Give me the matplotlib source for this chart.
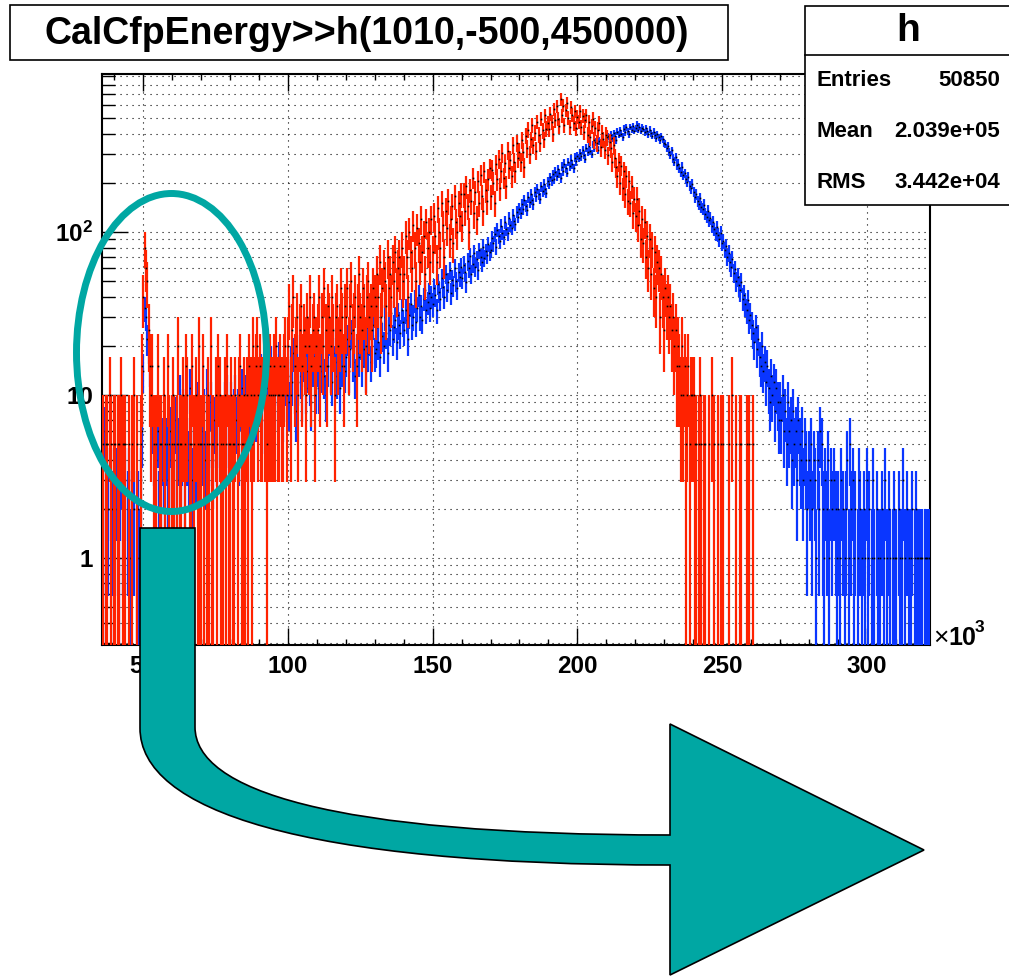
import numpy as np
import matplotlib
matplotlib.use("Agg")
import matplotlib.pyplot as plt
from matplotlib.collections import LineCollection
from matplotlib.patches import Rectangle, Ellipse, PathPatch
from matplotlib.path import Path
from matplotlib.ticker import FixedLocator, NullFormatter

plt.rcParams['font.family'] = ['Liberation Sans', 'DejaVu Sans']
plt.rcParams['mathtext.fontset'] = 'custom'
plt.rcParams['mathtext.rm'] = 'Liberation Sans:bold'
plt.rcParams['mathtext.bf'] = 'Liberation Sans:bold'
plt.rcParams['mathtext.default'] = 'rm'

# ---------------- data ----------------
# histogram h(1010,-500,450000): bin width in units of 10^3
BIN_W = 450.5 / 1010
X_LO = -0.5
FIRST_BIN = 81          # first bin shown (~35.6 x10^3)
RED_SCALE = 5.0         # red histogram is scaled by 5 per entry
BLUE_SCALE = 1.0

# blue counts per bin, grouped by ~10x10^3 ranges
blue_35_40 = [3, 2, 6, 1, 3, 2, 0, 3, 2, 1]
blue_40_50 = [2, 3, 3, 1, 3, 4, 2, 3, 3, 0, 2, 3, 1, 2, 3, 2, 0, 1, 2, 1, 3, 6]
blue_50_60 = [14, 34, 30, 22, 20, 15, 10, 7, 5, 3, 4, 6, 2, 4, 3, 5, 4, 2, 5, 3, 4, 6, 3]
blue_60_70 = [5, 4, 7, 3, 5, 10, 4, 5, 8, 3, 6, 5, 4, 11, 5, 3, 6, 5, 4, 9, 5, 6]
blue_70_80 = [6, 5, 8, 4, 11, 7, 5, 9, 6, 4, 7, 6, 5, 12, 6, 7, 4, 6, 9, 5, 10, 6]
blue_80_90 = [7, 9, 6, 8, 10, 7, 8, 5, 9, 11, 7, 8, 10, 6, 9, 8, 12, 7, 9, 10, 8, 11, 9]
blue_90_100 = [10, 14, 7, 12, 15, 9, 11, 6, 13, 16, 10, 8, 12, 14, 9, 17, 11, 13, 8, 15, 12, 10]
blue_100_110 = [13, 9, 16, 12, 18, 11, 8, 14, 12, 19, 13, 10, 16, 15, 11, 14, 20, 12, 9, 15, 17, 13, 11]
blue_110_120 = [15, 11, 19, 14, 20, 13, 10, 17, 15, 22, 14, 12, 18, 16, 21, 13, 17, 11, 20, 15, 18, 14]
blue_120_130 = [17, 22, 14, 19, 24, 16, 20, 13, 18, 25, 17, 21, 15, 23, 19, 14, 26, 18, 22, 16, 20, 27, 18]
blue_130_140 = [19, 26, 21, 17, 28, 23, 20, 30, 24, 18, 27, 25, 32, 22, 26, 29, 21, 31, 27, 24, 33, 28]
blue_140_150 = [25, 33, 29, 22, 31, 36, 27, 30, 38, 28, 34, 41, 30, 35, 29, 39, 44, 33, 37, 42, 34, 40]
blue_150_160 = [36, 45, 41, 33, 48, 43, 39, 52, 46, 40, 55, 44, 49, 58, 42, 51, 47, 60, 50, 45, 57, 53, 61]
blue_160_170 = [52, 63, 57, 49, 66, 60, 71, 55, 64, 74, 61, 68, 58, 77, 70, 65, 81, 69, 76, 72, 84, 75]
blue_170_180 = [78, 92, 85, 97, 81, 103, 94, 88, 109, 99, 93, 115, 104, 98, 121, 110, 106, 127, 117, 112, 133, 124, 138]
blue_180_190 = [131, 148, 139, 157, 144, 136, 163, 152, 170, 158, 149, 176, 165, 184, 171, 160, 190, 178, 197, 183, 174, 204]
blue_190_200 = [198, 216, 207, 226, 211, 234, 220, 243, 229, 214, 251, 237, 262, 245, 231, 269, 254, 278, 260, 247, 286, 271, 293]
blue_200_210 = [284, 303, 291, 317, 298, 282, 326, 309, 337, 315, 301, 345, 327, 356, 333, 318, 362, 341, 371, 350, 336, 378]
blue_210_220 = [361, 385, 370, 396, 377, 404, 389, 366, 412, 395, 421, 400, 383, 430, 409, 438, 416, 398, 441, 425, 447, 419]
blue_220_230 = [432, 455, 424, 443, 418, 437, 429, 408, 434, 415, 398, 423, 404, 389, 411, 392, 376, 398, 381, 365, 387, 370, 352]
blue_230_240 = [347, 329, 338, 309, 297, 316, 282, 270, 289, 256, 262, 247, 234, 251, 222, 229, 210, 203, 217, 192, 185, 198]
blue_240_250 = [176, 163, 170, 154, 149, 161, 142, 138, 147, 129, 124, 135, 118, 121, 109, 115, 104, 98, 107, 96, 90, 99, 86]
blue_250_260 = [88, 78, 82, 70, 74, 65, 61, 68, 56, 59, 50, 53, 47, 44, 49, 39, 41, 36, 33, 38, 29, 31]
blue_260_270 = [27, 24, 21, 26, 19, 22, 17, 15, 20, 14, 16, 12, 15, 11, 9, 13, 10, 12, 8, 11, 9, 7]
blue_270_280 = [9, 7, 10, 6, 8, 5, 9, 6, 7, 4, 8, 5, 6, 3, 7, 5, 4, 6, 3, 5, 4, 2, 4]
blue_280_290 = [3, 5, 2, 4, 3, 1, 4, 2, 6, 5, 2, 1, 3, 2, 4, 1, 3, 2, 0, 3, 2, 1]
blue_290_300 = [2, 1, 3, 0, 2, 1, 2, 4, 1, 5, 2, 3, 1, 2, 0, 1, 3, 2, 1, 0, 2, 1, 3]
blue_300_310 = [1, 2, 0, 1, 3, 1, 0, 2, 1, 1, 0, 2, 1, 3, 0, 1, 2, 1, 0, 1, 2, 1]
blue_310_320 = [1, 0, 2, 1, 1, 3, 0, 1, 2, 0, 1, 1, 2, 0, 1, 2, 1, 1, 1, 1, 1, 0, 1]
blue_320_322 = [1, 1, 1, 1]

# red counts per bin (entries before the x5 scaling)
red_35_40 = [0, 1, 0, 1, 1, 0, 2, 1, 0, 1]
red_40_50 = [1, 0, 1, 1, 0, 2, 1, 1, 1, 0, 0, 1, 0, 1, 0, 2, 0, 1, 0, 0, 1, 3]
red_50_60 = [8, 16, 12, 10, 5, 3, 2, 3, 1, 0, 1, 3, 0, 1, 1, 0, 2, 1, 0, 3, 1, 0, 1]
red_60_70 = [2, 1, 0, 1, 4, 1, 1, 0, 2, 1, 3, 2, 0, 1, 1, 3, 1, 0, 2, 1, 4, 1]
red_70_80 = [1, 3, 1, 0, 1, 2, 1, 4, 1, 1, 0, 2, 1, 3, 2, 1, 0, 1, 2, 1, 3, 1]
red_80_90 = [1, 2, 1, 1, 2, 0, 1, 2, 3, 1, 1, 2, 1, 2, 1, 3, 2, 1, 4, 2, 3, 4, 2]
red_90_100 = [3, 2, 2, 4, 2, 3, 1, 2, 3, 2, 2, 3, 2, 4, 2, 2, 3, 2, 2, 3, 4, 2]
red_100_110 = [4, 7, 2, 5, 8, 3, 4, 6, 2, 5, 7, 3, 5, 4, 2, 6, 4, 8, 3, 5, 6, 2, 4]
red_110_120 = [5, 8, 3, 6, 4, 9, 5, 3, 7, 6, 4, 8, 5, 2, 6, 7, 4, 5, 9, 6, 3, 7]
red_120_130 = [6, 9, 4, 7, 10, 5, 6, 8, 3, 7, 11, 6, 5, 9, 7, 4, 8, 10, 6, 7, 5, 9, 8]
red_130_140 = [7, 11, 8, 13, 6, 9, 12, 10, 7, 14, 9, 11, 8, 13, 10, 15, 9, 12, 14, 11, 16, 10]
red_140_150 = [11, 19, 14, 8, 20, 15, 12, 22, 16, 10, 21, 17, 13, 24, 15, 19, 11, 23, 16, 20, 13, 24]
red_150_160 = [15, 25, 19, 13, 28, 20, 16, 30, 22, 14, 27, 21, 31, 18, 24, 29, 17, 33, 23, 20, 30, 25, 34]
red_160_170 = [22, 34, 27, 38, 29, 20, 36, 31, 43, 26, 35, 24, 41, 30, 45, 33, 27, 47, 36, 31, 42, 49]
red_170_180 = [33, 48, 40, 30, 52, 42, 56, 37, 47, 61, 43, 53, 38, 63, 49, 55, 44, 68, 54, 47, 70, 57, 62]
red_180_190 = [54, 73, 62, 50, 78, 65, 85, 60, 74, 90, 68, 81, 63, 95, 79, 70, 99, 84, 74, 104, 86, 93]
red_190_200 = [86, 106, 94, 80, 113, 97, 118, 99, 89, 130, 104, 119, 91, 112, 124, 100, 88, 116, 105, 93, 110, 87, 102]
red_200_210 = [95, 110, 88, 103, 82, 97, 104, 79, 94, 76, 89, 99, 73, 87, 70, 85, 93, 66, 81, 74, 64, 79]
red_210_220 = [76, 59, 71, 65, 54, 68, 57, 50, 44, 54, 40, 51, 37, 47, 34, 44, 31, 41, 30, 38, 26, 32]
red_220_230 = [25, 32, 22, 27, 18, 24, 17, 23, 14, 19, 12, 18, 11, 16, 9, 15, 8, 13, 12, 6, 11, 8, 5]
red_230_240 = [9, 7, 8, 6, 7, 5, 6, 4, 5, 3, 4, 3, 2, 4, 2, 3, 1, 2, 3, 1, 2, 2]
red_240_250 = [2, 1, 1, 0, 1, 2, 1, 0, 1, 1, 0, 0, 1, 0, 2, 0, 1, 0, 0, 1, 0, 1, 0]
red_250_260 = [1, 0, 0, 0, 1, 0, 0, 2, 0, 0, 1, 0, 0, 1, 1, 0, 0, 0, 1, 0, 1, 0]
red_260_262 = [0, 1, 0, 0]

blue_counts = (blue_35_40 + blue_40_50 + blue_50_60 + blue_60_70 + blue_70_80 + blue_80_90
               + blue_90_100 + blue_100_110 + blue_110_120 + blue_120_130 + blue_130_140
               + blue_140_150 + blue_150_160 + blue_160_170 + blue_170_180 + blue_180_190
               + blue_190_200 + blue_200_210 + blue_210_220 + blue_220_230 + blue_230_240
               + blue_240_250 + blue_250_260 + blue_260_270 + blue_270_280 + blue_280_290
               + blue_290_300 + blue_300_310 + blue_310_320 + blue_320_322)
red_counts = (red_35_40 + red_40_50 + red_50_60 + red_60_70 + red_70_80 + red_80_90
              + red_90_100 + red_100_110 + red_110_120 + red_120_130 + red_130_140
              + red_140_150 + red_150_160 + red_160_170 + red_170_180 + red_180_190
              + red_190_200 + red_200_210 + red_210_220 + red_220_230 + red_230_240
              + red_240_250 + red_250_260 + red_260_262)

x_major = [50, 100, 150, 200, 250, 300]
x_labels = ['50', '100', '150', '200', '250', '300']
y_major = [1, 10, 100]
y_labels = ['1', '10', r'$10^{2}$']

title_text = "CalCfpEnergy>>h(1010,-500,450000)"
stats_name = "h"
stats_rows = [("Entries", "50850"), ("Mean", "2.039e+05"), ("RMS", "3.442e+04")]

RED = '#ff2200'
BLUE = '#0a36ff'
TEAL = '#00a7a3'

# ---------------- figure ----------------
W, H = 1009, 976
fig = plt.figure(figsize=(W / 100, H / 100), dpi=100)
fig.patch.set_facecolor('white')
L, T, R, B = 102, 74, 930, 645
ax = fig.add_axes([L / W, 1 - B / H, (R - L) / W, (B - T) / H])
ax.set_yscale('log')
ax.set_xlim(35.84, 321.75)
ax.set_ylim(0.292, 931)
ylo = 0.292


def draw_hist(counts, scale, color, z):
    n = np.asarray(counts, float)
    k = FIRST_BIN + np.arange(len(n))
    left = X_LO + k * BIN_W
    right = left + BIN_W
    cen = left + BIN_W / 2
    val = n * scale
    err = np.sqrt(n) * scale
    m = n > 0
    lo = np.maximum(val - err, ylo * 0.5)
    hi = val + err
    vseg = [[(c, a), (c, b)] for c, a, b in zip(cen[m], lo[m], hi[m])]
    hseg = [[(a, v), (b, v)] for a, b, v in zip(left[m], right[m], val[m])]
    ax.add_collection(LineCollection(vseg, colors=color, linewidths=1.6, zorder=z))
    ax.add_collection(LineCollection(hseg, colors=color, linewidths=1.4, zorder=z))
    ax.plot(cen[m], val[m], ls='none', marker='s', ms=1.2, mew=0, color='black', zorder=z + 0.1)


draw_hist(blue_counts, BLUE_SCALE, BLUE, 3)
draw_hist(red_counts, RED_SCALE, RED, 4)

# axes styling
ax.set_axisbelow(True)
ax.xaxis.set_major_locator(FixedLocator(x_major))
ax.xaxis.set_minor_locator(FixedLocator(list(range(40, 330, 10))))
ax.set_xticklabels(x_labels)
ax.yaxis.set_major_locator(FixedLocator(y_major))
ymin_ticks = [v * d for d in (0.1, 1, 10, 100) for v in range(2, 10) if 0.29 < v * d < 931]
ax.yaxis.set_minor_locator(FixedLocator(ymin_ticks))
ax.yaxis.set_minor_formatter(NullFormatter())
ax.set_yticklabels(y_labels)
for lab in ax.get_xticklabels() + ax.get_yticklabels():
    lab.set_fontweight('bold')
    lab.set_fontsize(17.5)
ax.tick_params(axis='x', which='major', direction='in', length=12.2, width=1.0, pad=7, top=True)
ax.tick_params(axis='x', which='minor', direction='in', length=4.3, width=1.0, top=True)
ax.tick_params(axis='y', which='major', direction='in', length=18.7, width=1.0, pad=6.5, right=False)
ax.tick_params(axis='y', which='minor', direction='in', length=9.4, width=1.0, right=False)
for s in ax.spines.values():
    s.set_linewidth(1.5)
gkw = dict(color='black', linewidth=0.8, linestyle=(0, (1, 4.4)))
ax.grid(True, which='major', axis='x', **gkw)
ax.grid(True, which='both', axis='y', **gkw)

# ---------------- overlay (pixel coordinates) ----------------
ov = fig.add_axes([0, 0, 1, 1], zorder=10)
ov.set_xlim(0, W)
ov.set_ylim(H, 0)
ov.axis('off')
ov.patch.set_alpha(0)

# title box
ov.add_patch(Rectangle((10, 5), 718, 55, facecolor='white', edgecolor='black', lw=1.2))
ov.text(367, 34, title_text, ha='center', va='center', fontsize=27, fontweight='bold')

# stats box
ov.add_patch(Rectangle((805, 6), 220, 199, facecolor='white', edgecolor='black', lw=1.2))
ov.plot([805, 1009], [55, 55], color='black', lw=1.2)
ov.text(908, 31, stats_name, ha='center', va='center', fontsize=28, fontweight='bold')
for i, (a, b) in enumerate(stats_rows):
    yy = 81 + 50.5 * i
    ov.text(817, yy, a, ha='left', va='center', fontsize=16, fontweight='bold')
    ov.text(1000, yy, b, ha='right', va='center', fontsize=16, fontweight='bold')

# x10^3 axis multiplier
ov.text(933, 645, '\u00d7', ha='left', va='baseline', fontsize=19)
ov.text(948, 645, '10', ha='left', va='baseline', fontsize=18, fontweight='bold')
ov.text(975, 632, '3', ha='left', va='baseline', fontsize=12.5, fontweight='bold')

# teal ellipse
ov.add_patch(Ellipse((171.5, 352.5), 190, 318, facecolor='none', edgecolor=TEAL, lw=5))

# teal curved arrow
verts = [(140, 528), (140, 728),
         (140, 810), (300, 865), (670, 865),
         (670, 975), (924, 850), (670, 724), (670, 835),
         (330, 835), (195, 790), (195, 727),
         (195, 528), (140, 528)]
codes = [Path.MOVETO, Path.LINETO,
         Path.CURVE4, Path.CURVE4, Path.CURVE4,
         Path.LINETO, Path.LINETO, Path.LINETO, Path.LINETO,
         Path.CURVE4, Path.CURVE4, Path.CURVE4,
         Path.LINETO, Path.CLOSEPOLY]
ov.add_patch(PathPatch(Path(verts, codes), facecolor=TEAL, edgecolor='black', lw=1.2))

fig.savefig('out.png', dpi=100)
